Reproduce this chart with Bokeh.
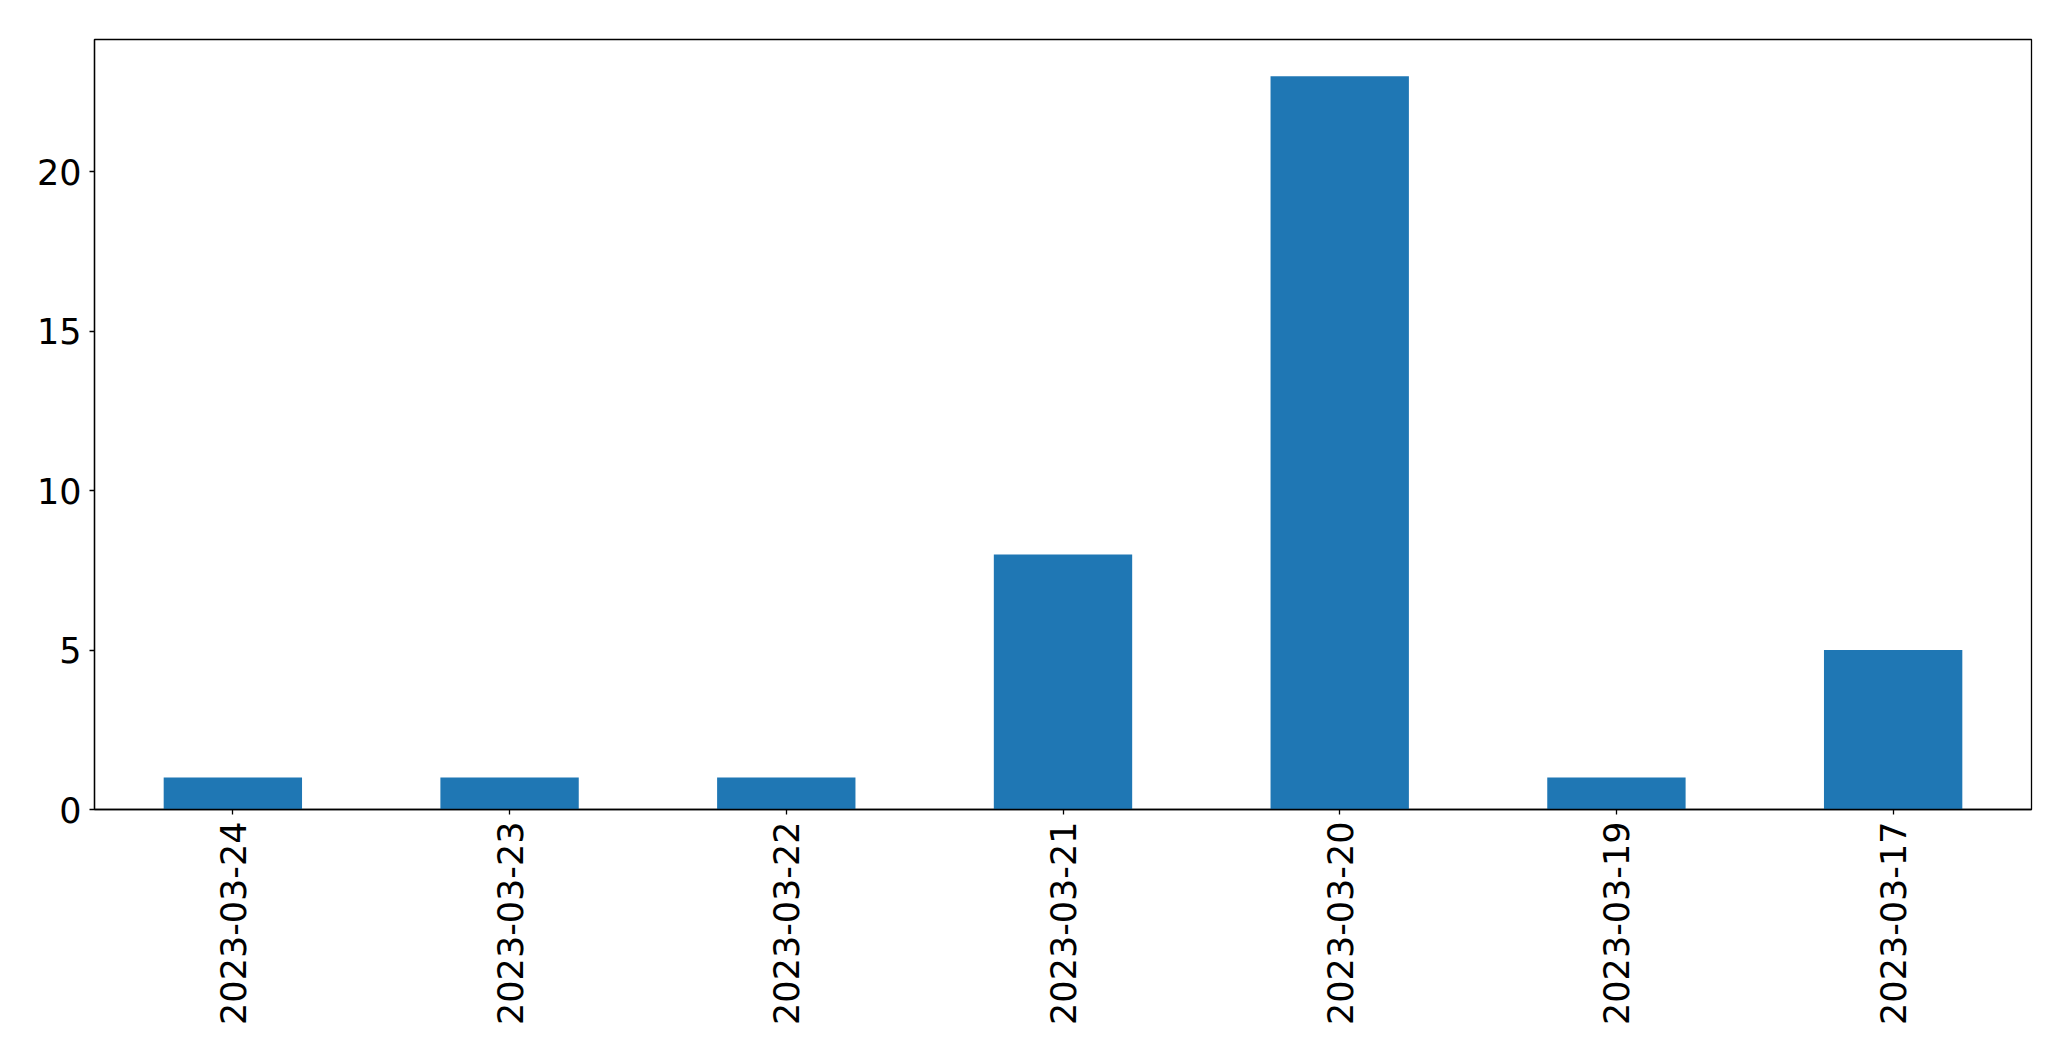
import math
from bokeh.plotting import figure
from bokeh.models import FactorRange, Range1d, FixedTicker, ColumnDataSource
from bokeh.embed import file_html
from bokeh.resources import INLINE

dates = ["2023-03-24", "2023-03-23", "2023-03-22", "2023-03-21",
         "2023-03-20", "2023-03-19", "2023-03-17"]
counts = [1, 1, 1, 8, 23, 1, 5]
y_ticks = [0, 5, 10, 15, 20]

source = ColumnDataSource(data=dict(date=dates, count=counts))

p = figure(
    x_range=FactorRange(*dates),
    y_range=Range1d(0, max(counts) * 1.05),
    width=2063, height=1053,
    output_backend="svg", toolbar_location=None,
    min_border_left=94, min_border_right=32,
    min_border_top=39, min_border_bottom=244,
)

p.vbar(x="date", top="count", width=0.5, source=source,
       fill_color="#1f77b4", line_color=None)

p.xgrid.grid_line_color = None
p.ygrid.grid_line_color = None
p.outline_line_color = "black"
p.outline_line_width = 1.3
p.outline_line_alpha = 1.0

p.yaxis.ticker = FixedTicker(ticks=y_ticks)
p.yaxis.minor_tick_line_color = None

for ax in (p.xaxis[0], p.yaxis[0]):
    ax.axis_line_color = "black"
    ax.axis_line_width = 1.3
    ax.major_tick_line_color = "black"
    ax.major_tick_line_width = 1.3
    ax.major_tick_out = 5
    ax.major_tick_in = 0
    ax.major_label_text_font = "DejaVu Sans"
    ax.major_label_text_font_size = "35px"
    ax.major_label_text_color = "black"

p.xaxis.major_label_orientation = math.pi / 2
p.xaxis.major_label_standoff = 7
p.yaxis.major_label_standoff = 8

open("out.html", "w").write(file_html(p, INLINE))
